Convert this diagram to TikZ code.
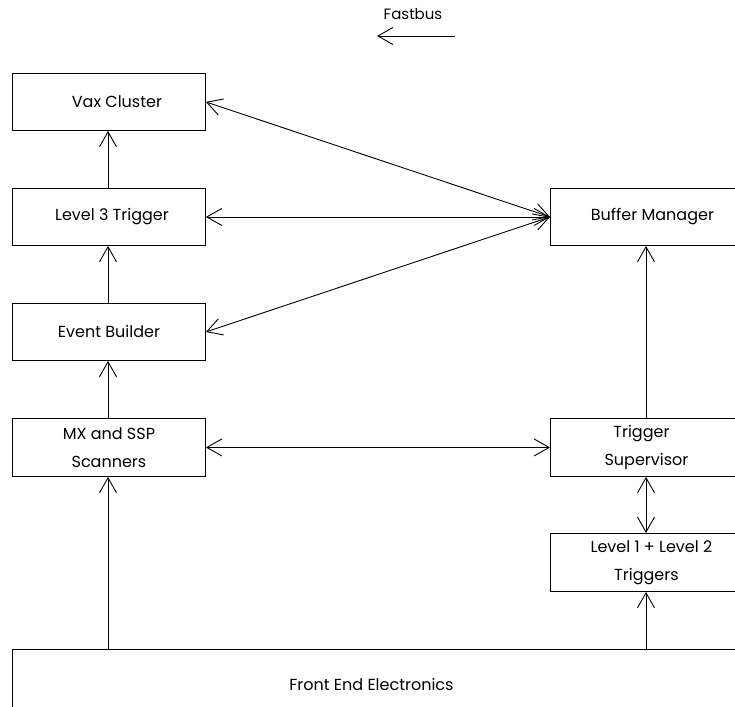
\documentclass[tikz,border=0pt]{standalone}
\usepackage{fontspec}
\setmainfont{Poppins}
\usetikzlibrary{arrows.meta}
\begin{document}
\begin{tikzpicture}[x=1pt,y=-1pt,
  box/.style={draw,line width=0.9pt,rectangle,inner sep=0pt,anchor=north west,font=\fontsize{16}{28}\selectfont,align=center},
  con/.style={line width=0.9pt,-{Straight Barb[length=15pt,width=17pt,line width=0.9pt]}},
  dcon/.style={line width=0.9pt,{Straight Barb[length=15pt,width=17pt,line width=0.9pt]}-{Straight Barb[length=15pt,width=17pt,line width=0.9pt]}}]
\clip (0,0) rectangle (735,706);
\fill[white] (0,0) rectangle (735,706);
% left column
\node[box,minimum width=193pt,minimum height=57pt] (vax) at (12,73) {\hspace*{16pt}Vax Cluster};
\node[box,minimum width=193pt,minimum height=57pt] (l3) at (12,188) {\hspace*{6pt}Level 3 Trigger};
\node[box,minimum width=193pt,minimum height=57pt] (eb) at (12,303) {Event Builder};
\node[box,minimum width=193pt,minimum height=58pt] (mx) at (12,418) {MX and SSP\\Scanners};
% right column
\node[box,minimum width=192pt,minimum height=57pt] (bm) at (550,188) {\hspace*{12pt}Buffer Manager};
\node[box,minimum width=192pt,minimum height=58pt] (ts) at (550,418) {Trigger\hspace*{10pt}\\Supervisor};
\node[box,minimum width=192pt,minimum height=58pt] (l12) at (550,533) {\hspace*{10pt}Level 1 + Level 2\\Triggers};
\node[box,minimum width=730pt,minimum height=70pt] (fe) at (12,649) {Front End Electronics\hspace*{12pt}};
% fastbus
\node[font=\fontsize{15}{17}\selectfont] (fb) at (413,14) {Fastbus};
\coordinate (fbs) at (455,36);
\coordinate (fbe) at (377,36);
\draw[con] (fbs) -- (fbe);
% vertical
\draw[con] (l3.north -| 108,0) -- (vax.south -| 108,0);
\draw[con] (eb.north -| 108,0) -- (l3.south -| 108,0);
\draw[con] (mx.north -| 108,0) -- (eb.south -| 108,0);
\draw[con] (fe.north -| 108,0) -- (mx.south -| 108,0);
\draw[con] (ts.north -| 646,0) -- (bm.south -| 646,0);
\draw[dcon] (ts.south -| 646,0) -- (l12.north -| 646,0);
\draw[con] (fe.north -| 646,0) -- (l12.south -| 646,0);
% diagonals
\draw[dcon] (bm.west) -- (vax.east);
\draw[dcon] (bm.west) -- (l3.east);
\draw[dcon] (bm.west) -- (eb.east);
\draw[dcon] (mx.east) -- (ts.west);
\end{tikzpicture}
\end{document}
